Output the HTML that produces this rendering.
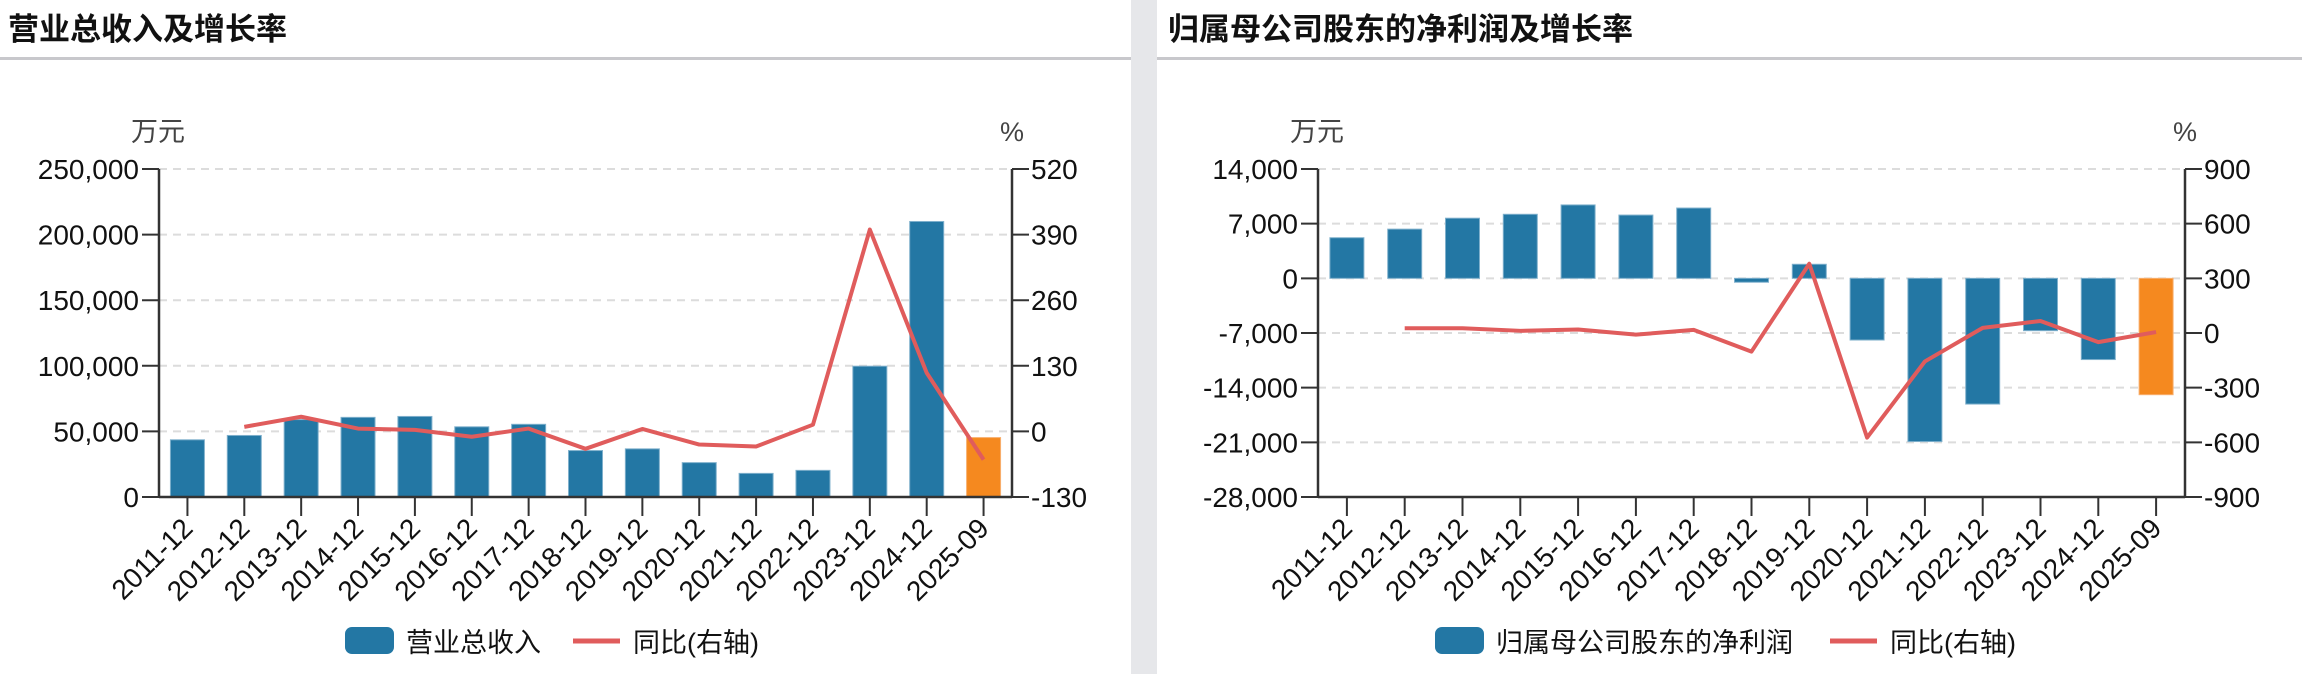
<!DOCTYPE html>
<html><head><meta charset="utf-8"><style>
body{margin:0;width:2302px;height:674px;overflow:hidden;background:#fff;font-family:"Liberation Sans","Noto Sans CJK SC",sans-serif;}
svg{position:absolute;left:0;top:0;}
</style></head><body>
<svg id="s" width="2302" height="674">
<rect x="1131" y="0" width="26" height="674" fill="#e6e7ea"/>
<text x="8" y="40" font-size="31" font-weight="bold" fill="#111">营业总收入及增长率</text>
<rect x="0" y="57" width="1131" height="3" fill="#c8c8cc"/>
<text x="1168" y="40" font-size="31" font-weight="bold" fill="#111">归属母公司股东的净利润及增长率</text>
<rect x="1157" y="57" width="1145" height="3" fill="#c8c8cc"/>
</svg>
<script>
const cats=["2011-12","2012-12","2013-12","2014-12","2015-12","2016-12","2017-12","2018-12","2019-12","2020-12","2021-12","2022-12","2023-12","2024-12","2025-09"];
const revenue=[43600,46900,59000,60700,61400,53500,55400,35400,36700,26200,18000,20300,99700,210000,45300];
const revenueYoy=[null,9,29,5.6,3,-10.6,5.6,-34.5,4.8,-26,-30,13.3,400,116,-56];
const revLeftTicks=[0,50000,100000,150000,200000,250000];
const revRightTicks=[-130,0,130,260,390,520];
const profit=[5200,6300,7700,8200,9400,8100,9000,-500,1800,-7900,-20900,-16100,-6700,-10400,-14900];
const profitYoy=[null,26,26,12,19,-9,17,-102,380,-574,-156,28,66,-50,5];
const profLeftTicks=[-28000,-21000,-14000,-7000,0,7000,14000];
const profRightTicks=[-900,-600,-300,0,300,600,900];

const NS="http://www.w3.org/2000/svg";
const svg=document.getElementById('s');
function el(tag,attrs,parent){const e=document.createElementNS(NS,tag);for(const k in attrs)e.setAttribute(k,attrs[k]);(parent||svg).appendChild(e);return e;}
function fmt(v){return v.toLocaleString('en-US');}

function chart(cfg){
  const g=el('g',{});
  
  
  const L=cfg.x0,R=cfg.x1,T=169,B=497;
  const lmin=cfg.lt[0],lmax=cfg.lt[cfg.lt.length-1];
  const rmin=cfg.rt[0],rmax=cfg.rt[cfg.rt.length-1];
  const yL=v=>B-(v-lmin)/(lmax-lmin)*(B-T);
  const yR=v=>B-(v-rmin)/(rmax-rmin)*(B-T);
  const bw=(R-L)/cats.length;
  const xc=i=>L+bw*(i+0.5);
  cfg.lt.forEach(v=>{
    const y=yL(v);
    if(v!==lmin){const gl=el('line',{x1:L,x2:R,y1:y,y2:y,stroke:'#dcdcdc','stroke-width':2,'stroke-dasharray':'8,6'},g);
    
    }
    el('line',{x1:L-17,x2:L,y1:y,y2:y,stroke:'#333','stroke-width':2},g);
    const t=el('text',{x:L-20,y:y+10,'text-anchor':'end','font-size':28,fill:'#111'},g);
    t.textContent=fmt(v);
    
    
  });
  cfg.rt.forEach(v=>{
    const y=yR(v);
    el('line',{x1:R,x2:R+17,y1:y,y2:y,stroke:'#333','stroke-width':2},g);
    const t=el('text',{x:R+19,y:y+10,'font-size':28,fill:'#111'},g);
    t.textContent=v;
    
    
  });
  cfg.bars.forEach((v,i)=>{
    const y0=yL(0),y1=yL(v);
    const r=el('rect',{x:xc(i)-17,y:Math.min(y0,y1),width:34,height:Math.abs(y1-y0),fill:i===cats.length-1?'#f5891f':'#2377a4',stroke:i===cats.length-1?'#f8b070':'#7fb0cc','stroke-width':1},g);
    
    
  });
  el('line',{x1:L,x2:L,y1:T,y2:B,stroke:'#333','stroke-width':2.5},g);
  el('line',{x1:R,x2:R,y1:T,y2:B,stroke:'#333','stroke-width':2.5},g);
  el('line',{x1:L,x2:R,y1:B,y2:B,stroke:'#333','stroke-width':2.5},g);
  cats.forEach((c,i)=>{
    const x=xc(i);
    el('line',{x1:x,x2:x,y1:B,y2:B+19,stroke:'#333','stroke-width':2},g);
    const t=el('text',{x:x+7,y:B+33,'text-anchor':'end','font-size':28,fill:'#111',transform:`rotate(-45 ${x+7} ${B+33})`},g);
    t.textContent=c;
    
    
  });
  let d='';
  cfg.line.forEach((v,i)=>{if(v===null)return;d+=(d?'L':'M')+xc(i)+','+yR(v);});
  const p=el('path',{d:d,fill:'none',stroke:'#e05c5c','stroke-width':4,'stroke-linejoin':'round'},g);
  
  
  const u=el('text',{x:L-28,y:141,'font-size':27,fill:'#444'},g);u.textContent='万元';
  
  
  const pc=el('text',{x:R-12,y:141,'font-size':27,fill:'#444'},g);pc.textContent='%';
  
  
  const lg=el('g',{},g);
  
  
  const sw=el('rect',{x:cfg.lx,y:627,width:49,height:27,rx:7,fill:'#2377a4'},lg);
  
  
  const t1=el('text',{x:cfg.lx+61,y:652,'font-size':27,fill:'#111'},lg);t1.textContent=cfg.label;
  
  
  el('line',{x1:cfg.lx2,x2:cfg.lx2+47,y1:641,y2:641,stroke:'#e05c5c','stroke-width':5},lg);
  const t2=el('text',{x:cfg.lx2+60,y:652,'font-size':27,fill:'#111'},lg);t2.textContent='同比(右轴)';
  
  
}
chart({name:'revenue-chart',x0:159,x1:1012,lt:revLeftTicks,rt:revRightTicks,bars:revenue,line:revenueYoy,label:'营业总收入',lx:345,lx2:573});
chart({name:'profit-chart',x0:1318,x1:2185,lt:profLeftTicks,rt:profRightTicks,bars:profit,line:profitYoy,label:'归属母公司股东的净利润',lx:1435,lx2:1830});
</script>
</body></html>
